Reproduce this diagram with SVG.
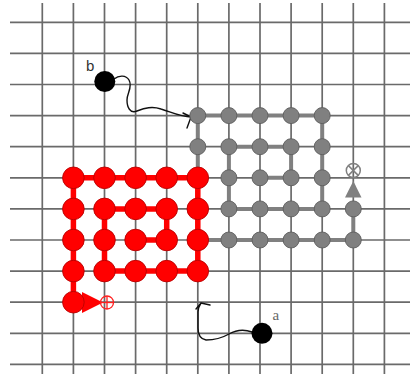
<svg xmlns="http://www.w3.org/2000/svg" xmlns:xlink="http://www.w3.org/1999/xlink" width="410" height="374" viewBox="0 0 410 374">
  <style>
    .grid line { stroke: #6a6a6a; stroke-width: 1.7; }
    .red-link { fill: none; stroke: #ff0000; stroke-width: 5.5; stroke-linejoin: round; }
    .gray-link { fill: none; stroke: #808080; stroke-width: 4; stroke-linejoin: round; }
    .wave { fill: none; stroke: #111; stroke-width: 1.4; stroke-linecap: round; stroke-linejoin: round; }
    .red { fill: #ff0000; stroke: #b80000; stroke-width: 0.9; }
    .gray { fill: #808080; stroke: #5e5e5e; stroke-width: 0.9; }
    .black { fill: #000; }
    .label { font-size: 15px; }
    .target-red { fill: none; stroke: #ff2020; stroke-width: 1.3; }
    .target-gray { fill: none; stroke: #808080; stroke-width: 1.5; }
  </style>
  <defs>
    <circle id="rn" r="10.8" class="red"/>
    <circle id="gn" r="8" class="gray"/>
  </defs>
  <rect width="410" height="374" fill="#fff"/>

  <!-- lattice: columns x = 42.3 + 31.1 i, rows y = 22.3 + 31.1 j -->
  <g id="grid" class="grid">
    <line x1="10" y1="22.3" x2="410" y2="22.3"/>
    <line x1="10" y1="53.4" x2="410" y2="53.4"/>
    <line x1="10" y1="84.5" x2="410" y2="84.5"/>
    <line x1="10" y1="115.6" x2="410" y2="115.6"/>
    <line x1="10" y1="146.7" x2="410" y2="146.7"/>
    <line x1="10" y1="177.8" x2="410" y2="177.8"/>
    <line x1="10" y1="208.9" x2="410" y2="208.9"/>
    <line x1="10" y1="240" x2="410" y2="240"/>
    <line x1="10" y1="271.1" x2="410" y2="271.1"/>
    <line x1="10" y1="302.2" x2="410" y2="302.2"/>
    <line x1="10" y1="333.3" x2="410" y2="333.3"/>
    <line x1="10" y1="364.4" x2="410" y2="364.4"/>
    <line x1="42.3" y1="3" x2="42.3" y2="374"/>
    <line x1="73.4" y1="3" x2="73.4" y2="374"/>
    <line x1="104.5" y1="3" x2="104.5" y2="374"/>
    <line x1="135.6" y1="3" x2="135.6" y2="374"/>
    <line x1="166.7" y1="3" x2="166.7" y2="374"/>
    <line x1="197.8" y1="3" x2="197.8" y2="374"/>
    <line x1="228.9" y1="3" x2="228.9" y2="374"/>
    <line x1="260" y1="3" x2="260" y2="374"/>
    <line x1="291.1" y1="3" x2="291.1" y2="374"/>
    <line x1="322.2" y1="3" x2="322.2" y2="374"/>
    <line x1="353.3" y1="3" x2="353.3" y2="374"/>
    <line x1="384.4" y1="3" x2="384.4" y2="374"/>
  </g>

  <g id="connectors">
    <!-- gray chain: inner spiral, wrapping round the red block, out to the target -->
    <polyline class="gray-link" points="260,177.8 291.1,177.8 291.1,146.7 260,146.7 228.9,146.7 228.9,177.8 228.9,208.9 260,208.9 291.1,208.9 322.2,208.9 322.2,177.8 322.2,146.7 322.2,115.6 291.1,115.6 260,115.6 228.9,115.6 197.8,115.6 197.8,146.7 197.8,177.8 197.8,208.9 197.8,240 228.9,240 260,240 291.1,240 322.2,240 353.3,240 353.3,208.9"/>
    <!-- red chain spiral -->
    <polyline class="red-link" points="135.6,240 166.7,240 166.7,208.9 135.6,208.9 104.5,208.9 104.5,240 104.5,271.1 135.6,271.1 166.7,271.1 197.8,271.1 197.8,240 197.8,208.9 197.8,177.8 166.7,177.8 135.6,177.8 104.5,177.8 73.4,177.8 73.4,208.9 73.4,240 73.4,271.1 73.4,302.2"/>
    <!-- heads pointing at the targets -->
    <polygon id="red-head" points="82,292 82,313 103,302.5" fill="#ff0000"/>
    <polygon id="gray-head" points="345,197.5 361.5,197.5 353.3,181" fill="#808080"/>
    <!-- wavy moves of the two free monomers -->
    <path id="wave-b" class="wave" d="M114,79 C119,75 126,75 129,80 C133,87 127,93 127,100 C127,107 130,114 137,111 C145,108 152,106 161,109 C171,112 181,117 191,117 M183,113 L191,117 L187,128"/>
    <path id="wave-a" class="wave" d="M252,332 C244,329 236,330 229,334 C222,338 214,340 206,340 C200,339 198,334 198,328 L198,312 C198,309 199,306 201,303 M196,309 L201,303 L210,305"/>
  </g>

  <g id="targets">
    <g id="target-red" class="target-red">
      <circle cx="107" cy="302.5" r="6.5"/>
      <line x1="100.5" y1="302.5" x2="113.5" y2="302.5"/>
      <line x1="107" y1="296" x2="107" y2="309"/>
    </g>
    <g id="target-gray" class="target-gray">
      <circle cx="353.3" cy="170.5" r="7"/>
      <line x1="348.4" y1="165.6" x2="358.2" y2="175.4"/>
      <line x1="358.2" y1="165.6" x2="348.4" y2="175.4"/>
    </g>
  </g>

  <g id="gray-nodes">
    <g id="g-5-3"><use xlink:href="#gn" x="197.8" y="115.6"/></g>
    <g id="g-6-3"><use xlink:href="#gn" x="228.9" y="115.6"/></g>
    <g id="g-7-3"><use xlink:href="#gn" x="260" y="115.6"/></g>
    <g id="g-8-3"><use xlink:href="#gn" x="291.1" y="115.6"/></g>
    <g id="g-9-3"><use xlink:href="#gn" x="322.2" y="115.6"/></g>
    <g id="g-5-4"><use xlink:href="#gn" x="197.8" y="146.7"/></g>
    <g id="g-6-4"><use xlink:href="#gn" x="228.9" y="146.7"/></g>
    <g id="g-7-4"><use xlink:href="#gn" x="260" y="146.7"/></g>
    <g id="g-8-4"><use xlink:href="#gn" x="291.1" y="146.7"/></g>
    <g id="g-9-4"><use xlink:href="#gn" x="322.2" y="146.7"/></g>
    <g id="g-6-5"><use xlink:href="#gn" x="228.9" y="177.8"/></g>
    <g id="g-7-5"><use xlink:href="#gn" x="260" y="177.8"/></g>
    <g id="g-8-5"><use xlink:href="#gn" x="291.1" y="177.8"/></g>
    <g id="g-9-5"><use xlink:href="#gn" x="322.2" y="177.8"/></g>
    <g id="g-6-6"><use xlink:href="#gn" x="228.9" y="208.9"/></g>
    <g id="g-7-6"><use xlink:href="#gn" x="260" y="208.9"/></g>
    <g id="g-8-6"><use xlink:href="#gn" x="291.1" y="208.9"/></g>
    <g id="g-9-6"><use xlink:href="#gn" x="322.2" y="208.9"/></g>
    <g id="g-10-6"><use xlink:href="#gn" x="353.3" y="208.9"/></g>
    <g id="g-6-7"><use xlink:href="#gn" x="228.9" y="240"/></g>
    <g id="g-7-7"><use xlink:href="#gn" x="260" y="240"/></g>
    <g id="g-8-7"><use xlink:href="#gn" x="291.1" y="240"/></g>
    <g id="g-9-7"><use xlink:href="#gn" x="322.2" y="240"/></g>
    <g id="g-10-7"><use xlink:href="#gn" x="353.3" y="240"/></g>
  </g>

  <g id="red-nodes">
    <g id="r-1-5"><use xlink:href="#rn" x="73.4" y="177.8"/></g>
    <g id="r-2-5"><use xlink:href="#rn" x="104.5" y="177.8"/></g>
    <g id="r-3-5"><use xlink:href="#rn" x="135.6" y="177.8"/></g>
    <g id="r-4-5"><use xlink:href="#rn" x="166.7" y="177.8"/></g>
    <g id="r-5-5"><use xlink:href="#rn" x="197.8" y="177.8"/></g>
    <g id="r-1-6"><use xlink:href="#rn" x="73.4" y="208.9"/></g>
    <g id="r-2-6"><use xlink:href="#rn" x="104.5" y="208.9"/></g>
    <g id="r-3-6"><use xlink:href="#rn" x="135.6" y="208.9"/></g>
    <g id="r-4-6"><use xlink:href="#rn" x="166.7" y="208.9"/></g>
    <g id="r-5-6"><use xlink:href="#rn" x="197.8" y="208.9"/></g>
    <g id="r-1-7"><use xlink:href="#rn" x="73.4" y="240"/></g>
    <g id="r-2-7"><use xlink:href="#rn" x="104.5" y="240"/></g>
    <g id="r-3-7"><use xlink:href="#rn" x="135.6" y="240"/></g>
    <g id="r-4-7"><use xlink:href="#rn" x="166.7" y="240"/></g>
    <g id="r-5-7"><use xlink:href="#rn" x="197.8" y="240"/></g>
    <g id="r-1-8"><use xlink:href="#rn" x="73.4" y="271.1"/></g>
    <g id="r-2-8"><use xlink:href="#rn" x="104.5" y="271.1"/></g>
    <g id="r-3-8"><use xlink:href="#rn" x="135.6" y="271.1"/></g>
    <g id="r-4-8"><use xlink:href="#rn" x="166.7" y="271.1"/></g>
    <g id="r-5-8"><use xlink:href="#rn" x="197.8" y="271.1"/></g>
    <g id="r-1-9"><use xlink:href="#rn" x="73.4" y="302.2"/></g>
  </g>

  <g id="monomer-b">
    <circle class="black" cx="104.8" cy="81.5" r="10.5"/>
    <text class="label" x="86" y="71" fill="#333" font-family="'Liberation Sans', Arial, sans-serif">b</text>
  </g>
  <g id="monomer-a">
    <circle class="black" cx="262" cy="333.3" r="10.5"/>
    <text class="label" x="272.5" y="320" fill="#666" font-family="'Liberation Serif', 'Times New Roman', serif">a</text>
  </g>
</svg>
